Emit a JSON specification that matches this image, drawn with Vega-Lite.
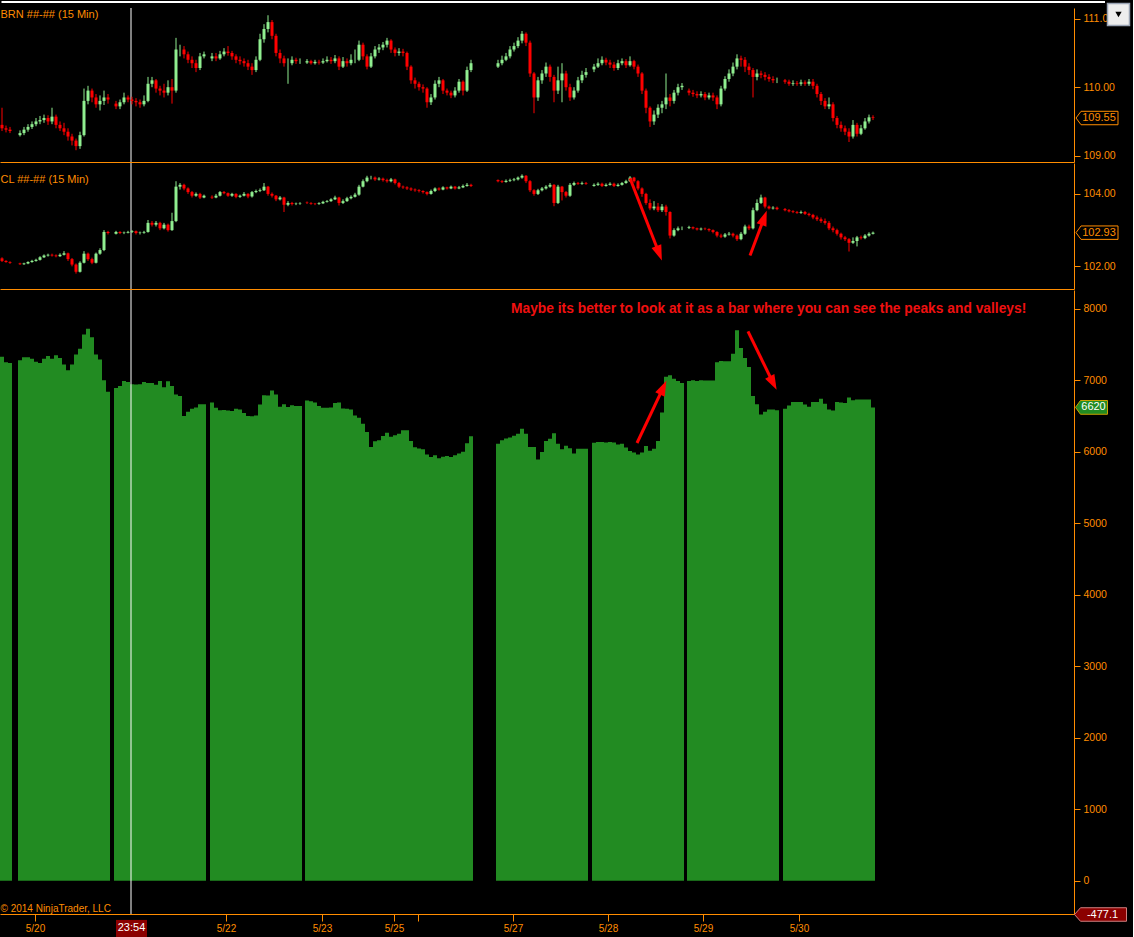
{
  "$schema": "https://vega.github.io/schema/vega-lite/v6.json",
  "background": "black",
  "padding": {"top": 0, "left": 0, "right": 0, "bottom": 0},
  "spacing": -1.5,
  "config": {
    "view": {"stroke": null},
    "font": "Liberation Sans",
    "axis": {"domainColor": "#FF8C00", "tickColor": "#FF8C00", "labelColor": "#FF8C00", "grid": false, "labelFont": "Liberation Sans", "labelFontSize": 10.5}
  },
  "datasets": {
    "cursor": [{"i": 131}],
    "frame": [{"i": 1.5, "i2": 1105, "val": 111.243}],
    "button": [{"i": 1118.5, "val": 111.06}],
    "bars": [
      {"i":2,"bo":109.45,"bh":109.70,"bl":109.36,"bc":109.40,"co":102.22,"ch":102.25,"cl":102.12,"cc":102.15,"v":7330},
      {"i":6,"bo":109.40,"bh":109.44,"bl":109.34,"bc":109.38,"co":102.15,"ch":102.17,"cl":102.10,"cc":102.12,"v":7250},
      {"i":10,"bo":109.38,"bh":109.42,"bl":109.33,"bc":109.36,"co":102.12,"ch":102.14,"cl":102.07,"cc":102.10,"v":7240},
      {"i":20,"bo":109.30,"bh":109.37,"bl":109.28,"bc":109.33,"co":102.08,"ch":102.10,"cl":102.04,"cc":102.06,"v":7280},
      {"i":24,"bo":109.33,"bh":109.42,"bl":109.30,"bc":109.38,"co":102.06,"ch":102.10,"cl":102.04,"cc":102.08,"v":7320},
      {"i":28,"bo":109.38,"bh":109.46,"bl":109.35,"bc":109.42,"co":102.08,"ch":102.14,"cl":102.06,"cc":102.12,"v":7320},
      {"i":32,"bo":109.42,"bh":109.50,"bl":109.39,"bc":109.46,"co":102.12,"ch":102.18,"cl":102.10,"cc":102.15,"v":7300},
      {"i":36,"bo":109.46,"bh":109.55,"bl":109.43,"bc":109.50,"co":102.15,"ch":102.21,"cl":102.13,"cc":102.18,"v":7260},
      {"i":40,"bo":109.50,"bh":109.58,"bl":109.46,"bc":109.52,"co":102.18,"ch":102.28,"cl":102.16,"cc":102.25,"v":7240},
      {"i":44,"bo":109.52,"bh":109.60,"bl":109.48,"bc":109.55,"co":102.25,"ch":102.33,"cl":102.23,"cc":102.30,"v":7300},
      {"i":48,"bo":109.55,"bh":109.59,"bl":109.45,"bc":109.50,"co":102.30,"ch":102.35,"cl":102.27,"cc":102.32,"v":7340},
      {"i":52,"bo":109.50,"bh":109.70,"bl":109.46,"bc":109.57,"co":102.32,"ch":102.35,"cl":102.27,"cc":102.30,"v":7300},
      {"i":56,"bo":109.57,"bh":109.60,"bl":109.40,"bc":109.45,"co":102.30,"ch":102.33,"cl":102.25,"cc":102.28,"v":7350},
      {"i":60,"bo":109.45,"bh":109.50,"bl":109.36,"bc":109.40,"co":102.28,"ch":102.36,"cl":102.26,"cc":102.32,"v":7310},
      {"i":64,"bo":109.40,"bh":109.48,"bl":109.30,"bc":109.35,"co":102.32,"ch":102.42,"cl":102.30,"cc":102.36,"v":7220},
      {"i":68,"bo":109.35,"bh":109.40,"bl":109.22,"bc":109.28,"co":102.36,"ch":102.38,"cl":102.15,"cc":102.20,"v":7140},
      {"i":72,"bo":109.28,"bh":109.32,"bl":109.15,"bc":109.22,"co":102.20,"ch":102.23,"cl":102.00,"cc":102.05,"v":7220},
      {"i":76,"bo":109.22,"bh":109.25,"bl":109.08,"bc":109.14,"co":102.05,"ch":102.08,"cl":101.80,"cc":101.85,"v":7360},
      {"i":80,"bo":109.14,"bh":109.35,"bl":109.10,"bc":109.30,"co":101.85,"ch":102.14,"cl":101.83,"cc":102.10,"v":7440},
      {"i":84,"bo":109.30,"bh":109.98,"bl":109.28,"bc":109.80,"co":102.10,"ch":102.42,"cl":102.08,"cc":102.35,"v":7640},
      {"i":88,"bo":109.80,"bh":110.02,"bl":109.75,"bc":109.95,"co":102.35,"ch":102.38,"cl":102.15,"cc":102.20,"v":7720},
      {"i":92,"bo":109.95,"bh":109.98,"bl":109.78,"bc":109.85,"co":102.20,"ch":102.24,"cl":102.06,"cc":102.10,"v":7600},
      {"i":96,"bo":109.85,"bh":109.90,"bl":109.70,"bc":109.75,"co":102.10,"ch":102.38,"cl":102.08,"cc":102.35,"v":7360},
      {"i":100,"bo":109.75,"bh":109.88,"bl":109.66,"bc":109.80,"co":102.35,"ch":102.50,"cl":102.32,"cc":102.45,"v":7290},
      {"i":104,"bo":109.80,"bh":109.95,"bl":109.74,"bc":109.85,"co":102.45,"ch":103.00,"cl":102.42,"cc":102.95,"v":7000},
      {"i":108,"bo":109.85,"bh":109.90,"bl":109.76,"bc":109.82,"co":102.95,"ch":102.98,"cl":102.88,"cc":102.92,"v":6840},
      {"i":116,"bo":109.76,"bh":109.80,"bl":109.68,"bc":109.72,"co":102.90,"ch":102.98,"cl":102.88,"cc":102.95,"v":6890},
      {"i":120,"bo":109.72,"bh":109.82,"bl":109.68,"bc":109.78,"co":102.95,"ch":102.97,"cl":102.89,"cc":102.92,"v":6920},
      {"i":124,"bo":109.78,"bh":109.92,"bl":109.75,"bc":109.85,"co":102.92,"ch":102.96,"cl":102.89,"cc":102.93,"v":6990},
      {"i":128,"bo":109.85,"bh":109.88,"bl":109.78,"bc":109.82,"co":102.93,"ch":102.98,"cl":102.91,"cc":102.95,"v":6975},
      {"i":132,"bo":109.82,"bh":109.86,"bl":109.75,"bc":109.80,"co":102.95,"ch":103.00,"cl":102.92,"cc":102.97,"v":6945},
      {"i":136,"bo":109.80,"bh":109.84,"bl":109.72,"bc":109.78,"co":102.97,"ch":102.99,"cl":102.88,"cc":102.92,"v":6940},
      {"i":140,"bo":109.78,"bh":109.82,"bl":109.70,"bc":109.75,"co":102.92,"ch":102.96,"cl":102.88,"cc":102.93,"v":6945},
      {"i":144,"bo":109.75,"bh":109.88,"bl":109.72,"bc":109.80,"co":102.93,"ch":102.98,"cl":102.90,"cc":102.95,"v":6975},
      {"i":148,"bo":109.80,"bh":110.15,"bl":109.78,"bc":110.05,"co":102.95,"ch":103.28,"cl":102.93,"cc":103.20,"v":6960},
      {"i":152,"bo":110.05,"bh":110.15,"bl":110.00,"bc":110.10,"co":103.20,"ch":103.25,"cl":103.10,"cc":103.15,"v":6960},
      {"i":156,"bo":110.10,"bh":110.12,"bl":109.92,"bc":109.98,"co":103.15,"ch":103.25,"cl":103.10,"cc":103.20,"v":6935},
      {"i":160,"bo":109.98,"bh":110.02,"bl":109.88,"bc":109.95,"co":103.20,"ch":103.23,"cl":103.00,"cc":103.05,"v":6990},
      {"i":164,"bo":109.95,"bh":110.05,"bl":109.85,"bc":109.92,"co":103.05,"ch":103.20,"cl":103.02,"cc":103.15,"v":6900},
      {"i":168,"bo":109.92,"bh":110.10,"bl":109.88,"bc":110.00,"co":103.15,"ch":103.18,"cl":102.96,"cc":103.00,"v":6985},
      {"i":172,"bo":110.00,"bh":110.12,"bl":109.76,"bc":109.95,"co":103.00,"ch":103.48,"cl":102.98,"cc":103.25,"v":6920},
      {"i":176,"bo":109.95,"bh":110.72,"bl":109.92,"bc":110.55,"co":103.25,"ch":104.35,"cl":103.22,"cc":104.20,"v":6800},
      {"i":180,"bo":110.55,"bh":110.62,"bl":110.45,"bc":110.55,"co":104.20,"ch":104.30,"cl":104.12,"cc":104.25,"v":6780},
      {"i":184,"bo":110.55,"bh":110.60,"bl":110.42,"bc":110.48,"co":104.25,"ch":104.28,"cl":104.10,"cc":104.15,"v":6500},
      {"i":188,"bo":110.48,"bh":110.52,"bl":110.35,"bc":110.40,"co":104.15,"ch":104.18,"cl":104.00,"cc":104.05,"v":6560},
      {"i":192,"bo":110.40,"bh":110.45,"bl":110.28,"bc":110.35,"co":104.05,"ch":104.08,"cl":103.90,"cc":103.95,"v":6600},
      {"i":196,"bo":110.35,"bh":110.40,"bl":110.22,"bc":110.28,"co":103.95,"ch":104.04,"cl":103.92,"cc":104.00,"v":6620},
      {"i":200,"bo":110.28,"bh":110.50,"bl":110.25,"bc":110.45,"co":104.00,"ch":104.03,"cl":103.86,"cc":103.90,"v":6663},
      {"i":204,"bo":110.45,"bh":110.52,"bl":110.42,"bc":110.48,"co":103.90,"ch":103.98,"cl":103.88,"cc":103.95,"v":6663},
      {"i":212,"bo":110.42,"bh":110.50,"bl":110.38,"bc":110.45,"co":103.92,"ch":103.96,"cl":103.86,"cc":103.90,"v":6690},
      {"i":216,"bo":110.45,"bh":110.50,"bl":110.38,"bc":110.42,"co":103.90,"ch":104.00,"cl":103.88,"cc":103.95,"v":6615},
      {"i":220,"bo":110.42,"bh":110.53,"bl":110.40,"bc":110.48,"co":103.95,"ch":104.08,"cl":103.93,"cc":104.05,"v":6580},
      {"i":224,"bo":110.48,"bh":110.57,"bl":110.45,"bc":110.52,"co":104.05,"ch":104.08,"cl":103.99,"cc":104.02,"v":6585},
      {"i":228,"bo":110.52,"bh":110.60,"bl":110.46,"bc":110.50,"co":104.02,"ch":104.04,"cl":103.92,"cc":103.95,"v":6575},
      {"i":232,"bo":110.50,"bh":110.53,"bl":110.40,"bc":110.45,"co":103.95,"ch":104.03,"cl":103.92,"cc":104.00,"v":6570},
      {"i":236,"bo":110.45,"bh":110.48,"bl":110.35,"bc":110.40,"co":104.00,"ch":104.02,"cl":103.88,"cc":103.92,"v":6600},
      {"i":240,"bo":110.40,"bh":110.45,"bl":110.33,"bc":110.38,"co":103.92,"ch":103.98,"cl":103.89,"cc":103.95,"v":6590},
      {"i":244,"bo":110.38,"bh":110.42,"bl":110.30,"bc":110.35,"co":103.95,"ch":104.05,"cl":103.93,"cc":104.00,"v":6540},
      {"i":248,"bo":110.35,"bh":110.40,"bl":110.25,"bc":110.30,"co":104.00,"ch":104.02,"cl":103.88,"cc":103.93,"v":6500},
      {"i":252,"bo":110.30,"bh":110.35,"bl":110.18,"bc":110.25,"co":103.93,"ch":104.08,"cl":103.90,"cc":104.05,"v":6495},
      {"i":256,"bo":110.25,"bh":110.45,"bl":110.22,"bc":110.40,"co":104.05,"ch":104.12,"cl":104.02,"cc":104.08,"v":6505},
      {"i":260,"bo":110.40,"bh":110.78,"bl":110.38,"bc":110.70,"co":104.08,"ch":104.15,"cl":104.05,"cc":104.10,"v":6660},
      {"i":264,"bo":110.70,"bh":110.92,"bl":110.65,"bc":110.85,"co":104.10,"ch":104.30,"cl":104.08,"cc":104.20,"v":6790},
      {"i":268,"bo":110.85,"bh":111.05,"bl":110.80,"bc":110.95,"co":104.20,"ch":104.22,"cl":103.95,"cc":104.00,"v":6785},
      {"i":272,"bo":110.95,"bh":110.98,"bl":110.70,"bc":110.75,"co":104.00,"ch":104.04,"cl":103.90,"cc":103.95,"v":6858},
      {"i":276,"bo":110.75,"bh":110.78,"bl":110.45,"bc":110.50,"co":103.95,"ch":103.97,"cl":103.80,"cc":103.85,"v":6800},
      {"i":280,"bo":110.50,"bh":110.55,"bl":110.35,"bc":110.42,"co":103.85,"ch":103.94,"cl":103.82,"cc":103.90,"v":6630},
      {"i":284,"bo":110.42,"bh":110.46,"bl":110.30,"bc":110.35,"co":103.90,"ch":103.92,"cl":103.50,"cc":103.70,"v":6663},
      {"i":288,"bo":110.35,"bh":110.42,"bl":110.05,"bc":110.35,"co":103.70,"ch":103.80,"cl":103.66,"cc":103.75,"v":6625},
      {"i":292,"bo":110.35,"bh":110.45,"bl":110.32,"bc":110.40,"co":103.75,"ch":103.78,"cl":103.68,"cc":103.72,"v":6650},
      {"i":296,"bo":110.40,"bh":110.43,"bl":110.34,"bc":110.38,"co":103.72,"ch":103.76,"cl":103.69,"cc":103.73,"v":6640},
      {"i":300,"bo":110.38,"bh":110.42,"bl":110.34,"bc":110.38,"co":103.73,"ch":103.77,"cl":103.70,"cc":103.74,"v":6640},
      {"i":307,"bo":110.36,"bh":110.41,"bl":110.34,"bc":110.38,"co":103.76,"ch":103.79,"cl":103.72,"cc":103.75,"v":6718},
      {"i":311,"bo":110.38,"bh":110.40,"bl":110.33,"bc":110.35,"co":103.75,"ch":103.77,"cl":103.70,"cc":103.73,"v":6705},
      {"i":315,"bo":110.35,"bh":110.40,"bl":110.33,"bc":110.37,"co":103.73,"ch":103.75,"cl":103.69,"cc":103.72,"v":6690},
      {"i":319,"bo":110.37,"bh":110.40,"bl":110.33,"bc":110.36,"co":103.72,"ch":103.77,"cl":103.70,"cc":103.74,"v":6640},
      {"i":323,"bo":110.36,"bh":110.42,"bl":110.34,"bc":110.38,"co":103.74,"ch":103.81,"cl":103.72,"cc":103.78,"v":6615},
      {"i":327,"bo":110.38,"bh":110.45,"bl":110.36,"bc":110.40,"co":103.78,"ch":103.83,"cl":103.76,"cc":103.80,"v":6615},
      {"i":331,"bo":110.40,"bh":110.44,"bl":110.34,"bc":110.38,"co":103.80,"ch":103.88,"cl":103.78,"cc":103.85,"v":6620},
      {"i":335,"bo":110.38,"bh":110.47,"bl":110.35,"bc":110.42,"co":103.85,"ch":103.95,"cl":103.83,"cc":103.90,"v":6680},
      {"i":339,"bo":110.42,"bh":110.45,"bl":110.25,"bc":110.30,"co":103.90,"ch":103.92,"cl":103.68,"cc":103.75,"v":6690},
      {"i":343,"bo":110.30,"bh":110.44,"bl":110.28,"bc":110.38,"co":103.75,"ch":103.85,"cl":103.72,"cc":103.80,"v":6605},
      {"i":347,"bo":110.38,"bh":110.42,"bl":110.30,"bc":110.35,"co":103.80,"ch":103.92,"cl":103.78,"cc":103.88,"v":6600},
      {"i":351,"bo":110.35,"bh":110.48,"bl":110.32,"bc":110.40,"co":103.88,"ch":103.96,"cl":103.85,"cc":103.92,"v":6590},
      {"i":355,"bo":110.40,"bh":110.55,"bl":110.35,"bc":110.40,"co":103.92,"ch":104.03,"cl":103.90,"cc":103.98,"v":6508},
      {"i":359,"bo":110.40,"bh":110.68,"bl":110.38,"bc":110.62,"co":103.98,"ch":104.25,"cl":103.95,"cc":104.20,"v":6475},
      {"i":363,"bo":110.62,"bh":110.65,"bl":110.40,"bc":110.45,"co":104.20,"ch":104.40,"cl":104.18,"cc":104.35,"v":6391},
      {"i":367,"bo":110.45,"bh":110.48,"bl":110.26,"bc":110.30,"co":104.35,"ch":104.50,"cl":104.32,"cc":104.45,"v":6275},
      {"i":371,"bo":110.30,"bh":110.50,"bl":110.28,"bc":110.45,"co":104.45,"ch":104.50,"cl":104.40,"cc":104.45,"v":6065},
      {"i":375,"bo":110.45,"bh":110.60,"bl":110.42,"bc":110.55,"co":104.45,"ch":104.48,"cl":104.36,"cc":104.40,"v":6145},
      {"i":379,"bo":110.55,"bh":110.63,"bl":110.50,"bc":110.58,"co":104.40,"ch":104.46,"cl":104.37,"cc":104.42,"v":6160},
      {"i":383,"bo":110.58,"bh":110.66,"bl":110.54,"bc":110.62,"co":104.42,"ch":104.45,"cl":104.34,"cc":104.38,"v":6220},
      {"i":387,"bo":110.62,"bh":110.72,"bl":110.58,"bc":110.68,"co":104.38,"ch":104.42,"cl":104.31,"cc":104.35,"v":6265},
      {"i":391,"bo":110.68,"bh":110.70,"bl":110.50,"bc":110.55,"co":104.35,"ch":104.44,"cl":104.32,"cc":104.40,"v":6210},
      {"i":395,"bo":110.55,"bh":110.58,"bl":110.45,"bc":110.50,"co":104.40,"ch":104.42,"cl":104.26,"cc":104.30,"v":6230},
      {"i":399,"bo":110.50,"bh":110.57,"bl":110.46,"bc":110.52,"co":104.30,"ch":104.33,"cl":104.16,"cc":104.20,"v":6250},
      {"i":403,"bo":110.52,"bh":110.56,"bl":110.45,"bc":110.50,"co":104.20,"ch":104.23,"cl":104.14,"cc":104.18,"v":6299},
      {"i":407,"bo":110.50,"bh":110.52,"bl":110.25,"bc":110.30,"co":104.18,"ch":104.21,"cl":104.11,"cc":104.15,"v":6299},
      {"i":411,"bo":110.30,"bh":110.32,"bl":110.05,"bc":110.10,"co":104.15,"ch":104.18,"cl":104.08,"cc":104.12,"v":6150},
      {"i":415,"bo":110.10,"bh":110.14,"bl":109.98,"bc":110.05,"co":104.12,"ch":104.15,"cl":104.06,"cc":104.10,"v":6061},
      {"i":419,"bo":110.05,"bh":110.08,"bl":109.95,"bc":110.00,"co":104.10,"ch":104.13,"cl":104.04,"cc":104.08,"v":6045},
      {"i":423,"bo":110.00,"bh":110.04,"bl":109.92,"bc":109.98,"co":104.08,"ch":104.10,"cl":104.01,"cc":104.05,"v":6035},
      {"i":427,"bo":109.98,"bh":110.00,"bl":109.70,"bc":109.78,"co":104.05,"ch":104.07,"cl":103.96,"cc":104.00,"v":5960},
      {"i":431,"bo":109.78,"bh":109.90,"bl":109.74,"bc":109.85,"co":104.00,"ch":104.12,"cl":103.98,"cc":104.08,"v":5925},
      {"i":435,"bo":109.85,"bh":110.10,"bl":109.82,"bc":110.05,"co":104.08,"ch":104.18,"cl":104.05,"cc":104.15,"v":5950},
      {"i":439,"bo":110.05,"bh":110.15,"bl":110.00,"bc":110.10,"co":104.15,"ch":104.18,"cl":104.09,"cc":104.12,"v":5910},
      {"i":443,"bo":110.10,"bh":110.12,"bl":109.90,"bc":109.95,"co":104.12,"ch":104.21,"cl":104.10,"cc":104.18,"v":5930},
      {"i":447,"bo":109.95,"bh":109.98,"bl":109.88,"bc":109.92,"co":104.18,"ch":104.20,"cl":104.12,"cc":104.15,"v":5940},
      {"i":451,"bo":109.92,"bh":109.95,"bl":109.84,"bc":109.88,"co":104.15,"ch":104.23,"cl":104.13,"cc":104.20,"v":5925},
      {"i":455,"bo":109.88,"bh":110.00,"bl":109.85,"bc":109.95,"co":104.20,"ch":104.22,"cl":104.12,"cc":104.15,"v":5950},
      {"i":459,"bo":109.95,"bh":110.12,"bl":109.92,"bc":110.08,"co":104.15,"ch":104.22,"cl":104.13,"cc":104.18,"v":5975},
      {"i":463,"bo":110.08,"bh":110.10,"bl":109.88,"bc":109.95,"co":104.18,"ch":104.26,"cl":104.16,"cc":104.22,"v":6000},
      {"i":467,"bo":109.95,"bh":110.30,"bl":109.93,"bc":110.25,"co":104.22,"ch":104.30,"cl":104.20,"cc":104.25,"v":6120},
      {"i":471,"bo":110.25,"bh":110.40,"bl":110.22,"bc":110.35,"co":104.25,"ch":104.28,"cl":104.19,"cc":104.22,"v":6215},
      {"i":498,"bo":110.30,"bh":110.40,"bl":110.28,"bc":110.35,"co":104.38,"ch":104.40,"cl":104.32,"cc":104.35,"v":6110},
      {"i":502,"bo":110.35,"bh":110.46,"bl":110.32,"bc":110.40,"co":104.35,"ch":104.38,"cl":104.30,"cc":104.33,"v":6160},
      {"i":506,"bo":110.40,"bh":110.50,"bl":110.38,"bc":110.45,"co":104.33,"ch":104.40,"cl":104.31,"cc":104.36,"v":6185},
      {"i":510,"bo":110.45,"bh":110.60,"bl":110.42,"bc":110.55,"co":104.36,"ch":104.42,"cl":104.33,"cc":104.38,"v":6200},
      {"i":514,"bo":110.55,"bh":110.65,"bl":110.52,"bc":110.60,"co":104.38,"ch":104.44,"cl":104.35,"cc":104.40,"v":6225},
      {"i":518,"bo":110.60,"bh":110.73,"bl":110.57,"bc":110.68,"co":104.40,"ch":104.48,"cl":104.37,"cc":104.45,"v":6250},
      {"i":522,"bo":110.68,"bh":110.82,"bl":110.64,"bc":110.78,"co":104.45,"ch":104.54,"cl":104.42,"cc":104.50,"v":6322},
      {"i":526,"bo":110.78,"bh":110.80,"bl":110.60,"bc":110.65,"co":104.50,"ch":104.52,"cl":104.30,"cc":104.35,"v":6250},
      {"i":530,"bo":110.65,"bh":110.68,"bl":110.15,"bc":110.20,"co":104.35,"ch":104.38,"cl":104.05,"cc":104.10,"v":6065},
      {"i":534,"bo":110.20,"bh":110.22,"bl":109.62,"bc":109.85,"co":104.10,"ch":104.13,"cl":103.95,"cc":104.00,"v":6065},
      {"i":538,"bo":109.85,"bh":110.15,"bl":109.80,"bc":110.10,"co":104.00,"ch":104.14,"cl":103.97,"cc":104.10,"v":5890},
      {"i":542,"bo":110.10,"bh":110.25,"bl":110.05,"bc":110.20,"co":104.10,"ch":104.19,"cl":104.07,"cc":104.15,"v":5995},
      {"i":546,"bo":110.20,"bh":110.36,"bl":110.15,"bc":110.30,"co":104.15,"ch":104.24,"cl":104.12,"cc":104.20,"v":6150},
      {"i":550,"bo":110.30,"bh":110.33,"bl":110.08,"bc":110.15,"co":104.20,"ch":104.30,"cl":104.17,"cc":104.25,"v":6180},
      {"i":554,"bo":110.15,"bh":110.18,"bl":109.78,"bc":109.95,"co":104.25,"ch":104.27,"cl":103.66,"cc":103.75,"v":6260},
      {"i":558,"bo":109.95,"bh":110.30,"bl":109.90,"bc":110.10,"co":103.75,"ch":104.25,"cl":103.72,"cc":104.20,"v":6110},
      {"i":562,"bo":110.10,"bh":110.35,"bl":109.78,"bc":110.20,"co":104.20,"ch":104.22,"cl":103.82,"cc":104.05,"v":6033},
      {"i":566,"bo":110.20,"bh":110.24,"bl":109.95,"bc":110.00,"co":104.05,"ch":104.08,"cl":103.90,"cc":103.95,"v":6085},
      {"i":570,"bo":110.00,"bh":110.05,"bl":109.80,"bc":109.85,"co":103.95,"ch":104.30,"cl":103.92,"cc":104.25,"v":6050},
      {"i":574,"bo":109.85,"bh":110.00,"bl":109.82,"bc":109.95,"co":104.25,"ch":104.34,"cl":104.22,"cc":104.30,"v":5975},
      {"i":578,"bo":109.95,"bh":110.15,"bl":109.92,"bc":110.10,"co":104.30,"ch":104.33,"cl":104.25,"cc":104.28,"v":6040},
      {"i":582,"bo":110.10,"bh":110.24,"bl":110.06,"bc":110.18,"co":104.28,"ch":104.34,"cl":104.25,"cc":104.30,"v":6040},
      {"i":586,"bo":110.18,"bh":110.28,"bl":110.14,"bc":110.22,"co":104.30,"ch":104.33,"cl":104.25,"cc":104.28,"v":6040},
      {"i":594,"bo":110.26,"bh":110.34,"bl":110.22,"bc":110.30,"co":104.22,"ch":104.29,"cl":104.20,"cc":104.25,"v":6125},
      {"i":598,"bo":110.30,"bh":110.42,"bl":110.28,"bc":110.35,"co":104.25,"ch":104.32,"cl":104.22,"cc":104.28,"v":6135},
      {"i":602,"bo":110.35,"bh":110.45,"bl":110.32,"bc":110.40,"co":104.28,"ch":104.31,"cl":104.19,"cc":104.22,"v":6135},
      {"i":606,"bo":110.40,"bh":110.43,"bl":110.32,"bc":110.36,"co":104.22,"ch":104.29,"cl":104.20,"cc":104.25,"v":6130},
      {"i":610,"bo":110.36,"bh":110.40,"bl":110.28,"bc":110.33,"co":104.25,"ch":104.32,"cl":104.23,"cc":104.28,"v":6135},
      {"i":614,"bo":110.33,"bh":110.37,"bl":110.24,"bc":110.28,"co":104.28,"ch":104.31,"cl":104.19,"cc":104.22,"v":6130},
      {"i":618,"bo":110.28,"bh":110.40,"bl":110.25,"bc":110.35,"co":104.22,"ch":104.29,"cl":104.20,"cc":104.25,"v":6100},
      {"i":622,"bo":110.35,"bh":110.42,"bl":110.32,"bc":110.38,"co":104.25,"ch":104.33,"cl":104.23,"cc":104.30,"v":6110},
      {"i":626,"bo":110.38,"bh":110.41,"bl":110.28,"bc":110.32,"co":104.30,"ch":104.39,"cl":104.28,"cc":104.35,"v":6060},
      {"i":630,"bo":110.32,"bh":110.45,"bl":110.30,"bc":110.38,"co":104.35,"ch":104.49,"cl":104.33,"cc":104.45,"v":6010},
      {"i":634,"bo":110.38,"bh":110.40,"bl":110.26,"bc":110.30,"co":104.45,"ch":104.47,"cl":104.31,"cc":104.35,"v":5990},
      {"i":638,"bo":110.30,"bh":110.33,"bl":110.15,"bc":110.20,"co":104.35,"ch":104.38,"cl":104.10,"cc":104.15,"v":5960},
      {"i":642,"bo":110.20,"bh":110.22,"bl":109.90,"bc":109.95,"co":104.15,"ch":104.18,"cl":103.92,"cc":104.00,"v":5990},
      {"i":646,"bo":109.95,"bh":109.98,"bl":109.62,"bc":109.70,"co":104.00,"ch":104.03,"cl":103.70,"cc":103.75,"v":6080},
      {"i":650,"bo":109.70,"bh":109.72,"bl":109.42,"bc":109.50,"co":103.75,"ch":103.85,"cl":103.55,"cc":103.60,"v":6015},
      {"i":654,"bo":109.50,"bh":109.66,"bl":109.45,"bc":109.60,"co":103.60,"ch":103.80,"cl":103.55,"cc":103.65,"v":6040},
      {"i":658,"bo":109.60,"bh":109.75,"bl":109.55,"bc":109.70,"co":103.65,"ch":103.75,"cl":103.50,"cc":103.55,"v":6150},
      {"i":662,"bo":109.70,"bh":109.80,"bl":109.62,"bc":109.75,"co":103.55,"ch":103.72,"cl":103.50,"cc":103.65,"v":6550},
      {"i":666,"bo":109.75,"bh":110.20,"bl":109.68,"bc":109.85,"co":103.65,"ch":103.70,"cl":103.40,"cc":103.50,"v":7050},
      {"i":670,"bo":109.85,"bh":109.90,"bl":109.72,"bc":109.80,"co":103.50,"ch":103.52,"cl":102.77,"cc":102.85,"v":7070},
      {"i":674,"bo":109.80,"bh":109.96,"bl":109.76,"bc":109.92,"co":102.85,"ch":103.05,"cl":102.82,"cc":103.00,"v":7020},
      {"i":678,"bo":109.92,"bh":110.05,"bl":109.88,"bc":110.00,"co":103.00,"ch":103.10,"cl":102.97,"cc":103.05,"v":6990},
      {"i":682,"bo":110.00,"bh":110.06,"bl":109.96,"bc":110.02,"co":103.05,"ch":103.10,"cl":103.00,"cc":103.05,"v":6960},
      {"i":689,"bo":109.95,"bh":109.98,"bl":109.88,"bc":109.92,"co":103.06,"ch":103.12,"cl":103.03,"cc":103.08,"v":6988},
      {"i":693,"bo":109.92,"bh":109.96,"bl":109.86,"bc":109.90,"co":103.08,"ch":103.10,"cl":103.02,"cc":103.05,"v":7000},
      {"i":697,"bo":109.90,"bh":109.94,"bl":109.84,"bc":109.88,"co":103.05,"ch":103.07,"cl":102.99,"cc":103.02,"v":6990},
      {"i":701,"bo":109.88,"bh":109.94,"bl":109.85,"bc":109.90,"co":103.02,"ch":103.07,"cl":102.99,"cc":103.04,"v":7000},
      {"i":705,"bo":109.90,"bh":109.93,"bl":109.81,"bc":109.85,"co":103.04,"ch":103.07,"cl":103.00,"cc":103.03,"v":6995},
      {"i":709,"bo":109.85,"bh":109.92,"bl":109.82,"bc":109.88,"co":103.03,"ch":103.05,"cl":102.96,"cc":103.00,"v":6995},
      {"i":713,"bo":109.88,"bh":109.92,"bl":109.80,"bc":109.85,"co":103.00,"ch":103.02,"cl":102.91,"cc":102.95,"v":6995},
      {"i":717,"bo":109.85,"bh":109.88,"bl":109.68,"bc":109.75,"co":102.95,"ch":102.97,"cl":102.80,"cc":102.85,"v":7250},
      {"i":721,"bo":109.75,"bh":110.02,"bl":109.72,"bc":109.98,"co":102.85,"ch":102.90,"cl":102.78,"cc":102.82,"v":7270},
      {"i":725,"bo":109.98,"bh":110.16,"bl":109.95,"bc":110.12,"co":102.82,"ch":102.92,"cl":102.79,"cc":102.88,"v":7265},
      {"i":729,"bo":110.12,"bh":110.26,"bl":110.08,"bc":110.20,"co":102.88,"ch":102.95,"cl":102.85,"cc":102.90,"v":7265},
      {"i":733,"bo":110.20,"bh":110.36,"bl":110.16,"bc":110.30,"co":102.90,"ch":102.93,"cl":102.80,"cc":102.85,"v":7370},
      {"i":737,"bo":110.30,"bh":110.48,"bl":110.26,"bc":110.42,"co":102.85,"ch":102.88,"cl":102.70,"cc":102.75,"v":7698},
      {"i":741,"bo":110.42,"bh":110.46,"bl":110.30,"bc":110.40,"co":102.75,"ch":102.95,"cl":102.72,"cc":102.90,"v":7450},
      {"i":745,"bo":110.40,"bh":110.44,"bl":110.22,"bc":110.30,"co":102.90,"ch":103.15,"cl":102.87,"cc":103.10,"v":7310},
      {"i":749,"bo":110.30,"bh":110.35,"bl":110.18,"bc":110.25,"co":103.10,"ch":103.15,"cl":103.00,"cc":103.05,"v":7185},
      {"i":753,"bo":110.25,"bh":110.28,"bl":109.85,"bc":110.15,"co":103.05,"ch":103.62,"cl":103.02,"cc":103.55,"v":6780},
      {"i":757,"bo":110.15,"bh":110.26,"bl":110.10,"bc":110.20,"co":103.55,"ch":103.85,"cl":103.52,"cc":103.75,"v":6663},
      {"i":761,"bo":110.20,"bh":110.24,"bl":110.13,"bc":110.18,"co":103.75,"ch":103.98,"cl":103.72,"cc":103.90,"v":6520},
      {"i":765,"bo":110.18,"bh":110.22,"bl":110.10,"bc":110.15,"co":103.90,"ch":103.92,"cl":103.60,"cc":103.65,"v":6560},
      {"i":769,"bo":110.15,"bh":110.19,"bl":110.08,"bc":110.12,"co":103.65,"ch":103.68,"cl":103.57,"cc":103.60,"v":6590},
      {"i":773,"bo":110.12,"bh":110.16,"bl":110.06,"bc":110.10,"co":103.60,"ch":103.66,"cl":103.57,"cc":103.62,"v":6590},
      {"i":777,"bo":110.10,"bh":110.14,"bl":110.06,"bc":110.10,"co":103.62,"ch":103.65,"cl":103.55,"cc":103.58,"v":6580},
      {"i":785,"bo":110.10,"bh":110.12,"bl":110.05,"bc":110.08,"co":103.58,"ch":103.61,"cl":103.52,"cc":103.55,"v":6600},
      {"i":789,"bo":110.08,"bh":110.11,"bl":110.02,"bc":110.05,"co":103.55,"ch":103.58,"cl":103.49,"cc":103.52,"v":6645},
      {"i":793,"bo":110.05,"bh":110.10,"bl":110.02,"bc":110.06,"co":103.52,"ch":103.55,"cl":103.47,"cc":103.50,"v":6695},
      {"i":797,"bo":110.06,"bh":110.09,"bl":110.02,"bc":110.05,"co":103.50,"ch":103.53,"cl":103.45,"cc":103.48,"v":6695},
      {"i":801,"bo":110.05,"bh":110.11,"bl":110.02,"bc":110.07,"co":103.48,"ch":103.54,"cl":103.45,"cc":103.50,"v":6695},
      {"i":805,"bo":110.07,"bh":110.10,"bl":110.02,"bc":110.05,"co":103.50,"ch":103.53,"cl":103.42,"cc":103.45,"v":6660},
      {"i":809,"bo":110.05,"bh":110.12,"bl":110.02,"bc":110.08,"co":103.45,"ch":103.48,"cl":103.38,"cc":103.42,"v":6630},
      {"i":813,"bo":110.08,"bh":110.12,"bl":109.97,"bc":110.02,"co":103.42,"ch":103.45,"cl":103.30,"cc":103.35,"v":6695},
      {"i":817,"bo":110.02,"bh":110.05,"bl":109.85,"bc":109.90,"co":103.35,"ch":103.40,"cl":103.25,"cc":103.30,"v":6695},
      {"i":821,"bo":109.90,"bh":109.93,"bl":109.74,"bc":109.80,"co":103.30,"ch":103.35,"cl":103.20,"cc":103.25,"v":6741},
      {"i":825,"bo":109.80,"bh":109.84,"bl":109.68,"bc":109.72,"co":103.25,"ch":103.32,"cl":103.15,"cc":103.20,"v":6670},
      {"i":829,"bo":109.72,"bh":109.85,"bl":109.68,"bc":109.75,"co":103.20,"ch":103.25,"cl":103.00,"cc":103.05,"v":6590},
      {"i":833,"bo":109.75,"bh":109.78,"bl":109.50,"bc":109.55,"co":103.05,"ch":103.10,"cl":102.94,"cc":103.00,"v":6575},
      {"i":837,"bo":109.55,"bh":109.58,"bl":109.40,"bc":109.45,"co":103.00,"ch":103.04,"cl":102.85,"cc":102.90,"v":6695},
      {"i":841,"bo":109.45,"bh":109.50,"bl":109.35,"bc":109.40,"co":102.90,"ch":102.93,"cl":102.74,"cc":102.80,"v":6690},
      {"i":845,"bo":109.40,"bh":109.44,"bl":109.30,"bc":109.35,"co":102.80,"ch":102.84,"cl":102.70,"cc":102.75,"v":6680},
      {"i":849,"bo":109.35,"bh":109.40,"bl":109.20,"bc":109.28,"co":102.75,"ch":102.78,"cl":102.41,"cc":102.65,"v":6760},
      {"i":853,"bo":109.28,"bh":109.52,"bl":109.25,"bc":109.45,"co":102.65,"ch":102.80,"cl":102.62,"cc":102.70,"v":6720},
      {"i":857,"bo":109.45,"bh":109.48,"bl":109.28,"bc":109.32,"co":102.70,"ch":102.84,"cl":102.55,"cc":102.80,"v":6730},
      {"i":861,"bo":109.32,"bh":109.45,"bl":109.30,"bc":109.40,"co":102.80,"ch":102.85,"cl":102.74,"cc":102.78,"v":6730},
      {"i":865,"bo":109.40,"bh":109.55,"bl":109.38,"bc":109.50,"co":102.78,"ch":102.89,"cl":102.75,"cc":102.85,"v":6730},
      {"i":869,"bo":109.50,"bh":109.60,"bl":109.47,"bc":109.56,"co":102.85,"ch":102.94,"cl":102.82,"cc":102.90,"v":6730},
      {"i":873,"bo":109.56,"bh":109.59,"bl":109.52,"bc":109.55,"co":102.90,"ch":102.96,"cl":102.88,"cc":102.93,"v":6620}
    ],
    "labels": [
      {"panel": "BRN", "i": 0.5, "val": 111.05, "label": "BRN ##-## (15 Min)"},
      {"panel": "CL", "i": 0.5, "val": 104.37, "label": "CL ##-## (15 Min)"},
      {"panel": "S", "i": 0.5, "val": -403, "label": "© 2014 NinjaTrader, LLC"},
      {"panel": "N", "i": 511, "val": 8000, "label": "Maybe its better to look at it as a bar where you can see the peaks and valleys!"}
    ],
    "arrows": [
      {"panel": "CL", "id": "a1", "i": 630, "p": 104.43, "i2": 659, "p2": 102.37},
      {"panel": "CL", "id": "a2", "i": 750, "p": 102.30, "i2": 764, "p2": 103.33},
      {"panel": "S", "id": "a3", "i": 637, "p": 6122, "i2": 663, "p2": 6891},
      {"panel": "S", "id": "a4", "i": 748, "p": 7684, "i2": 773, "p2": 6965}
    ],
    "badges": [
      {"panel": "BRN", "i": 1097, "val": 109.55, "label": "109.55"},
      {"panel": "CL", "i": 1097, "val": 102.93, "label": "102.93"},
      {"panel": "S", "i": 1091.5, "val": 6620, "label": "6620"},
      {"panel": "Y", "i": 1100.5, "val": -473, "label": "-477.1"},
      {"panel": "T", "i": 131.5, "val": -668, "label": "23:54"}
    ]
  },
  "vconcat": [
    {
      "width": 1074,
      "height": 154,
      "encoding": {
        "x": {"field": "i", "type": "quantitative", "title": null, "scale": {"domain": [0, 1074], "nice": false, "zero": false, "padding": 0}, "axis": {"orient": "bottom", "labels": false, "ticks": false, "domain": true}}
      },
      "layer": [
        {
          "data": {"name": "frame"},
          "mark": {"type": "rule", "color": "white", "strokeWidth": 2},
          "encoding": {
            "x2": {"field": "i2"},
            "y": {"field": "val", "type": "quantitative", "title": null, "scale": {"domain": [108.908, 111.156], "nice": false, "zero": false}}
          }
        },
        {"data": {"name": "cursor"}, "mark": {"type": "rule", "color": "white", "strokeWidth": 1}, "encoding": {}},
        {
          "data": {"name": "bars"},
          "mark": {"type": "rule", "strokeWidth": 1},
          "encoding": {
            "y": {"field": "bl", "type": "quantitative", "title": null, "scale": {"domain": [108.908, 111.156], "nice": false, "zero": false}, "axis": {"orient": "right", "values": [109, 109.5, 110, 110.5, 111], "format": ".2f", "tickSize": 6, "labelPadding": 3}},
            "y2": {"field": "bh"},
            "color": {"condition": {"test": "datum.bc < datum.bo", "value": "#FF0000"}, "value": "#90EE90"}
          }
        },
        {
          "data": {"name": "bars"},
          "mark": {"type": "bar", "size": 3},
          "encoding": {
            "y": {"field": "bo", "type": "quantitative", "title": null, "scale": {"domain": [108.908, 111.156], "nice": false, "zero": false}},
            "y2": {"field": "bc"},
            "color": {"condition": {"test": "datum.bc < datum.bo", "value": "#FF0000"}, "value": "#90EE90"}
          }
        },
        {
          "data": {"name": "labels"},
          "transform": [{"filter": "datum.panel == 'BRN'"}],
          "mark": {"type": "text", "align": "left", "baseline": "middle", "color": "#FF8C00", "fontSize": 11},
          "encoding": {
            "y": {"field": "val", "type": "quantitative", "title": null, "scale": {"domain": [108.908, 111.156], "nice": false, "zero": false}},
            "text": {"field": "label"}
          }
        },
        {
          "data": {"name": "badges"},
          "transform": [{"filter": "datum.panel == 'BRN'"}],
          "mark": {"type": "point", "shape": "M-1,0L-0.76,-0.32L1,-0.32L1,0.32L-0.76,0.32Z", "size": 1764, "filled": true, "fill": "black", "stroke": "#FF8C00", "strokeWidth": 1, "opacity": 1},
          "encoding": {
            "y": {"field": "val", "type": "quantitative", "title": null, "scale": {"domain": [108.908, 111.156], "nice": false, "zero": false}}
          }
        },
        {
          "data": {"name": "badges"},
          "transform": [{"filter": "datum.panel == 'BRN'"}],
          "mark": {"type": "text", "align": "center", "baseline": "middle", "dx": 2, "color": "#FF8C00", "fontSize": 11},
          "encoding": {
            "y": {"field": "val", "type": "quantitative", "title": null, "scale": {"domain": [108.908, 111.156], "nice": false, "zero": false}},
            "text": {"field": "label"}
          }
        },
        {
          "data": {"name": "button"},
          "mark": {"type": "point", "shape": "square", "size": 484, "filled": true, "fill": "#EDEDED", "stroke": "#9AA4B4", "strokeWidth": 1.5, "opacity": 1},
          "encoding": {
            "y": {"field": "val", "type": "quantitative", "title": null, "scale": {"domain": [108.908, 111.156], "nice": false, "zero": false}}
          }
        },
        {
          "data": {"name": "button"},
          "mark": {"type": "point", "shape": "triangle-down", "size": 40, "filled": true, "color": "black", "opacity": 1},
          "encoding": {
            "y": {"field": "val", "type": "quantitative", "title": null, "scale": {"domain": [108.908, 111.156], "nice": false, "zero": false}}
          }
        }
      ]
    },
    {
      "width": 1074,
      "height": 126,
      "encoding": {
        "x": {"field": "i", "type": "quantitative", "title": null, "scale": {"domain": [0, 1074], "nice": false, "zero": false, "padding": 0}, "axis": {"orient": "bottom", "labels": false, "ticks": false, "domain": true}}
      },
      "layer": [
        {"data": {"name": "cursor"}, "mark": {"type": "rule", "color": "white", "strokeWidth": 1}, "encoding": {}},
        {
          "data": {"name": "bars"},
          "mark": {"type": "rule", "strokeWidth": 1},
          "encoding": {
            "y": {"field": "cl", "type": "quantitative", "title": null, "scale": {"domain": [101.375, 104.853], "nice": false, "zero": false}, "axis": {"orient": "right", "values": [102, 104], "format": ".2f", "tickSize": 6, "labelPadding": 3}},
            "y2": {"field": "ch"},
            "color": {"condition": {"test": "datum.cc < datum.co", "value": "#FF0000"}, "value": "#90EE90"}
          }
        },
        {
          "data": {"name": "bars"},
          "mark": {"type": "bar", "size": 3},
          "encoding": {
            "y": {"field": "co", "type": "quantitative", "title": null, "scale": {"domain": [101.375, 104.853], "nice": false, "zero": false}},
            "y2": {"field": "cc"},
            "color": {"condition": {"test": "datum.cc < datum.co", "value": "#FF0000"}, "value": "#90EE90"}
          }
        },
        {
          "data": {"name": "labels"},
          "transform": [{"filter": "datum.panel == 'CL'"}],
          "mark": {"type": "text", "align": "left", "baseline": "middle", "color": "#FF8C00", "fontSize": 11},
          "encoding": {
            "y": {"field": "val", "type": "quantitative", "title": null, "scale": {"domain": [101.375, 104.853], "nice": false, "zero": false}},
            "text": {"field": "label"}
          }
        },
        {
          "data": {"name": "arrows"},
          "transform": [{"filter": "datum.panel == 'CL'"}],
          "mark": {"type": "rule", "color": "#FF0000", "strokeWidth": 3},
          "encoding": {
            "y": {"field": "p", "type": "quantitative", "title": null, "scale": {"domain": [101.375, 104.853], "nice": false, "zero": false}},
            "x2": {"field": "i2"},
            "y2": {"field": "p2"}
          }
        },
        {
          "data": {"name": "arrows"},
          "transform": [{"filter": "datum.id == 'a1'"}],
          "mark": {"type": "point", "shape": "M0,-1L0.65,0.9L-0.65,0.9Z", "size": 256, "filled": true, "color": "#FF0000", "opacity": 1, "angle": 159},
          "encoding": {
            "x": {"field": "i2", "type": "quantitative", "title": null, "scale": {"domain": [0, 1074], "nice": false, "zero": false, "padding": 0}},
            "y": {"field": "p2", "type": "quantitative", "title": null, "scale": {"domain": [101.375, 104.853], "nice": false, "zero": false}}
          }
        },
        {
          "data": {"name": "arrows"},
          "transform": [{"filter": "datum.id == 'a2'"}],
          "mark": {"type": "point", "shape": "M0,-1L0.65,0.9L-0.65,0.9Z", "size": 256, "filled": true, "color": "#FF0000", "opacity": 1, "angle": 20},
          "encoding": {
            "x": {"field": "i2", "type": "quantitative", "title": null, "scale": {"domain": [0, 1074], "nice": false, "zero": false, "padding": 0}},
            "y": {"field": "p2", "type": "quantitative", "title": null, "scale": {"domain": [101.375, 104.853], "nice": false, "zero": false}}
          }
        },
        {
          "data": {"name": "badges"},
          "transform": [{"filter": "datum.panel == 'CL'"}],
          "mark": {"type": "point", "shape": "M-1,0L-0.76,-0.32L1,-0.32L1,0.32L-0.76,0.32Z", "size": 1764, "filled": true, "fill": "black", "stroke": "#FF8C00", "strokeWidth": 1, "opacity": 1},
          "encoding": {
            "y": {"field": "val", "type": "quantitative", "title": null, "scale": {"domain": [101.375, 104.853], "nice": false, "zero": false}}
          }
        },
        {
          "data": {"name": "badges"},
          "transform": [{"filter": "datum.panel == 'CL'"}],
          "mark": {"type": "text", "align": "center", "baseline": "middle", "dx": 2, "color": "#FF8C00", "fontSize": 11},
          "encoding": {
            "y": {"field": "val", "type": "quantitative", "title": null, "scale": {"domain": [101.375, 104.853], "nice": false, "zero": false}},
            "text": {"field": "label"}
          }
        }
      ]
    },
    {
      "width": 1074,
      "height": 624,
      "encoding": {
        "x": {
          "field": "i", "type": "quantitative", "title": null,
          "scale": {"domain": [0, 1074], "nice": false, "zero": false, "padding": 0},
          "axis": {
            "orient": "bottom", "values": [35, 226, 322, 394, 418, 513, 608, 703, 799], "tickSize": 7, "labelPadding": 2, "labelFontSize": 10, "labelFlush": false,
            "labelExpr": "datum.value == 35 ? '5/20' : datum.value == 226 ? '5/22' : datum.value == 322 ? '5/23' : datum.value == 394 ? '5/25' : datum.value == 513 ? '5/27' : datum.value == 608 ? '5/28' : datum.value == 703 ? '5/29' : datum.value == 799 ? '5/30' : ''"
          }
        }
      },
      "layer": [
        {
          "data": {"name": "bars"},
          "mark": {"type": "bar", "size": 4, "color": "#228B22"},
          "encoding": {
            "y": {"field": "v", "type": "quantitative", "title": null, "scale": {"domain": [-466, 8262], "nice": false, "zero": false}, "axis": {"orient": "right", "values": [0, 500, 1000, 1500, 2000, 2500, 3000, 3500, 4000, 4500, 5000, 5500, 6000, 6500, 7000, 7500, 8000], "format": "d", "tickSize": 6, "labelPadding": 3}}
          }
        },
        {"data": {"name": "cursor"}, "mark": {"type": "rule", "color": "white", "strokeWidth": 1}, "encoding": {}},
        {
          "data": {"name": "labels"},
          "transform": [{"filter": "datum.panel == 'S'"}],
          "mark": {"type": "text", "align": "left", "baseline": "middle", "color": "#FF8C00", "fontSize": 10},
          "encoding": {
            "y": {"field": "val", "type": "quantitative", "title": null, "scale": {"domain": [-466, 8262], "nice": false, "zero": false}},
            "text": {"field": "label"}
          }
        },
        {
          "data": {"name": "labels"},
          "transform": [{"filter": "datum.panel == 'N'"}],
          "mark": {"type": "text", "align": "left", "baseline": "middle", "color": "#F01010", "fontSize": 13.8, "fontWeight": "bold"},
          "encoding": {
            "y": {"field": "val", "type": "quantitative", "title": null, "scale": {"domain": [-466, 8262], "nice": false, "zero": false}},
            "text": {"field": "label"}
          }
        },
        {
          "data": {"name": "arrows"},
          "transform": [{"filter": "datum.panel == 'S'"}],
          "mark": {"type": "rule", "color": "#FF0000", "strokeWidth": 3},
          "encoding": {
            "y": {"field": "p", "type": "quantitative", "title": null, "scale": {"domain": [-466, 8262], "nice": false, "zero": false}},
            "x2": {"field": "i2"},
            "y2": {"field": "p2"}
          }
        },
        {
          "data": {"name": "arrows"},
          "transform": [{"filter": "datum.id == 'a3'"}],
          "mark": {"type": "point", "shape": "M0,-1L0.65,0.9L-0.65,0.9Z", "size": 256, "filled": true, "color": "#FF0000", "opacity": 1, "angle": 25},
          "encoding": {
            "x": {"field": "i2", "type": "quantitative", "title": null, "scale": {"domain": [0, 1074], "nice": false, "zero": false, "padding": 0}},
            "y": {"field": "p2", "type": "quantitative", "title": null, "scale": {"domain": [-466, 8262], "nice": false, "zero": false}}
          }
        },
        {
          "data": {"name": "arrows"},
          "transform": [{"filter": "datum.id == 'a4'"}],
          "mark": {"type": "point", "shape": "M0,-1L0.65,0.9L-0.65,0.9Z", "size": 256, "filled": true, "color": "#FF0000", "opacity": 1, "angle": 153},
          "encoding": {
            "x": {"field": "i2", "type": "quantitative", "title": null, "scale": {"domain": [0, 1074], "nice": false, "zero": false, "padding": 0}},
            "y": {"field": "p2", "type": "quantitative", "title": null, "scale": {"domain": [-466, 8262], "nice": false, "zero": false}}
          }
        },
        {
          "data": {"name": "badges"},
          "transform": [{"filter": "datum.panel == 'S'"}],
          "mark": {"type": "point", "shape": "M-1,0L-0.69,-0.43L1,-0.43L1,0.43L-0.69,0.43Z", "size": 1024, "filled": true, "fill": "#228B22", "stroke": "#C8A000", "strokeWidth": 1, "opacity": 1},
          "encoding": {
            "y": {"field": "val", "type": "quantitative", "title": null, "scale": {"domain": [-466, 8262], "nice": false, "zero": false}}
          }
        },
        {
          "data": {"name": "badges"},
          "transform": [{"filter": "datum.panel == 'Y'"}],
          "mark": {"type": "point", "shape": "M-1,0L-0.77,-0.26L1,-0.26L1,0.26L-0.77,0.26Z", "size": 2704, "filled": true, "fill": "#8B0000", "stroke": "#D08080", "strokeWidth": 1, "opacity": 1},
          "encoding": {
            "y": {"field": "val", "type": "quantitative", "title": null, "scale": {"domain": [-466, 8262], "nice": false, "zero": false}}
          }
        },
        {
          "data": {"name": "badges"},
          "transform": [{"filter": "datum.panel == 'T'"}],
          "mark": {"type": "point", "shape": "M-1,-0.55L1,-0.55L1,0.55L-1,0.55Z", "size": 961, "filled": true, "fill": "#8B0000", "opacity": 1},
          "encoding": {
            "y": {"field": "val", "type": "quantitative", "title": null, "scale": {"domain": [-466, 8262], "nice": false, "zero": false}}
          }
        },
        {
          "data": {"name": "badges"},
          "transform": [{"filter": "datum.panel == 'S' || datum.panel == 'Y'"}],
          "mark": {"type": "text", "align": "center", "baseline": "middle", "dx": 2, "color": "white", "fontSize": 11},
          "encoding": {
            "y": {"field": "val", "type": "quantitative", "title": null, "scale": {"domain": [-466, 8262], "nice": false, "zero": false}},
            "text": {"field": "label"}
          }
        },
        {
          "data": {"name": "badges"},
          "transform": [{"filter": "datum.panel == 'T'"}],
          "mark": {"type": "text", "align": "center", "baseline": "middle", "color": "white", "fontSize": 11},
          "encoding": {
            "y": {"field": "val", "type": "quantitative", "title": null, "scale": {"domain": [-466, 8262], "nice": false, "zero": false}},
            "text": {"field": "label"}
          }
        }
      ]
    }
  ]
}
